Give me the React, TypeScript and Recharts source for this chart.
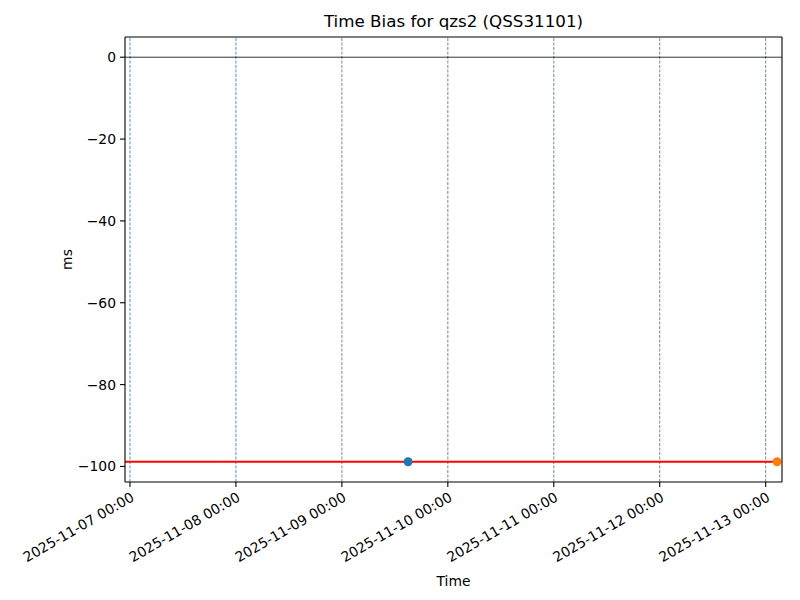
import React from "react";
import {
  ScatterChart,
  Scatter,
  XAxis,
  YAxis,
  ReferenceLine,
  Label,
} from "recharts";

const DAY = 86400000;
const T0 = Date.UTC(2025, 10, 7, 0, 0);

// Tick positions (days since 2025-11-07 00:00 UTC)
const xTickDays = [0, 1, 2, 3, 4, 5, 6];
const yTicks = [0, -20, -40, -60, -80, -100];

// Vertical markers
const blueMarkerDays = [0, 1];
const greyMarkerDays = [2, 3, 4, 5, 6];

// Measurements
const firstPoint = [{ t: Date.UTC(2025, 10, 9, 15, 0), v: -98.85 }];
const lastPoint = [{ t: Date.UTC(2025, 10, 13, 2, 35), v: -98.85 }];
const meanBias = -98.85;

const xDomain = [T0 - 0.047 * DAY, T0 + 6.154 * DAY];
const yDomain = [-103.8, 4.94];

const FONT = "DejaVu Sans";

const pad = (n: number) => (n < 10 ? "0" + n : "" + n);
const fmtDate = (ms: number) => {
  const d = new Date(ms);
  return `${d.getUTCFullYear()}-${pad(d.getUTCMonth() + 1)}-${pad(d.getUTCDate())} ${pad(
    d.getUTCHours()
  )}:${pad(d.getUTCMinutes())}`;
};
const fmtY = (v: number) => (v < 0 ? "\u2212" + Math.abs(v) : String(v));

const XTick = (props: any) => {
  const { x, y, payload } = props;
  return (
    <text
      x={x}
      y={y}
      textAnchor="end"
      dominantBaseline="hanging"
      transform={`rotate(-30, ${x}, ${y})`}
      fontFamily={FONT}
      fontSize={13.9}
      fill="#000"
    >
      {fmtDate(payload.value)}
    </text>
  );
};

export default function App() {
  return (
    <div style={{ position: "absolute", left: 0, top: 0, width: 800, height: 600, background: "#fff" }}>
      <div
        style={{
          position: "absolute",
          left: 125,
          width: 657,
          top: 11,
          textAlign: "center",
          fontFamily: FONT,
          fontSize: 16.7,
          color: "#000",
        }}
      >
        Time Bias for qzs2 (QSS31101)
      </div>
      <ScatterChart
        width={800}
        height={600}
        margin={{ top: 36, right: 17, bottom: 0, left: 0 }}
      >
        <XAxis
          xAxisId="top"
          orientation="top"
          type="number"
          dataKey="t"
          domain={xDomain}
          allowDataOverflow
          tick={false}
          tickLine={false}
          stroke="#000"
          axisLine={{ stroke: "#000", strokeWidth: 1.1 }}
          height={1}
        />
        <YAxis
          yAxisId="right"
          orientation="right"
          type="number"
          dataKey="v"
          domain={yDomain}
          allowDataOverflow
          tick={false}
          tickLine={false}
          stroke="#000"
          axisLine={{ stroke: "#000", strokeWidth: 1.1 }}
          width={1}
        />
        <XAxis
          type="number"
          dataKey="t"
          domain={xDomain}
          allowDataOverflow
          ticks={xTickDays.map((d) => T0 + d * DAY)}
          tick={<XTick />}
          tickSize={5}
          tickMargin={4}
          interval={0}
          stroke="#000"
          axisLine={{ stroke: "#000", strokeWidth: 1.1 }}
          tickLine={{ stroke: "#000", strokeWidth: 1.1 }}
          height={118}
        >
          <Label
            value="Time"
            position="insideBottom"
            offset={14}
            style={{ fontFamily: FONT, fontSize: 13.9, fill: "#000" }}
          />
        </XAxis>
        <YAxis
          type="number"
          dataKey="v"
          domain={yDomain}
          allowDataOverflow
          ticks={yTicks}
          interval={0}
          tickFormatter={fmtY}
          tickSize={5}
          tickMargin={4}
          width={125}
          stroke="#000"
          axisLine={{ stroke: "#000", strokeWidth: 1.1 }}
          tickLine={{ stroke: "#000", strokeWidth: 1.1 }}
          tick={{ fontFamily: FONT, fontSize: 13.9, fill: "#000" }}
        >
          <Label
            value="ms"
            angle={-90}
            position="insideLeft"
            offset={67}
            style={{ fontFamily: FONT, fontSize: 13.9, fill: "#000", textAnchor: "middle" }}
          />
        </YAxis>
        {blueMarkerDays.map((d) => (
          <ReferenceLine
            key={"b" + d}
            x={T0 + d * DAY}
            stroke="#1f77b4"
            strokeWidth={0.8}
            strokeDasharray="3 1.5"
          />
        ))}
        {greyMarkerDays.map((d) => (
          <ReferenceLine
            key={"g" + d}
            x={T0 + d * DAY}
            stroke="#55697a"
            strokeWidth={0.8}
            strokeDasharray="3 1.5"
          />
        ))}
        <ReferenceLine y={0} stroke="#000" strokeWidth={0.8} />
        <ReferenceLine y={meanBias} stroke="#ff0000" strokeWidth={2} />
        <Scatter data={firstPoint} fill="#1f77b4" isAnimationActive={false} shape={(p: any) => <circle cx={p.cx} cy={p.cy} r={4.5} fill="#1f77b4" />} />
        <Scatter data={lastPoint} fill="#ff7f0e" isAnimationActive={false} shape={(p: any) => <circle cx={p.cx} cy={p.cy} r={4.5} fill="#ff7f0e" />} />
      </ScatterChart>
    </div>
  );
}
